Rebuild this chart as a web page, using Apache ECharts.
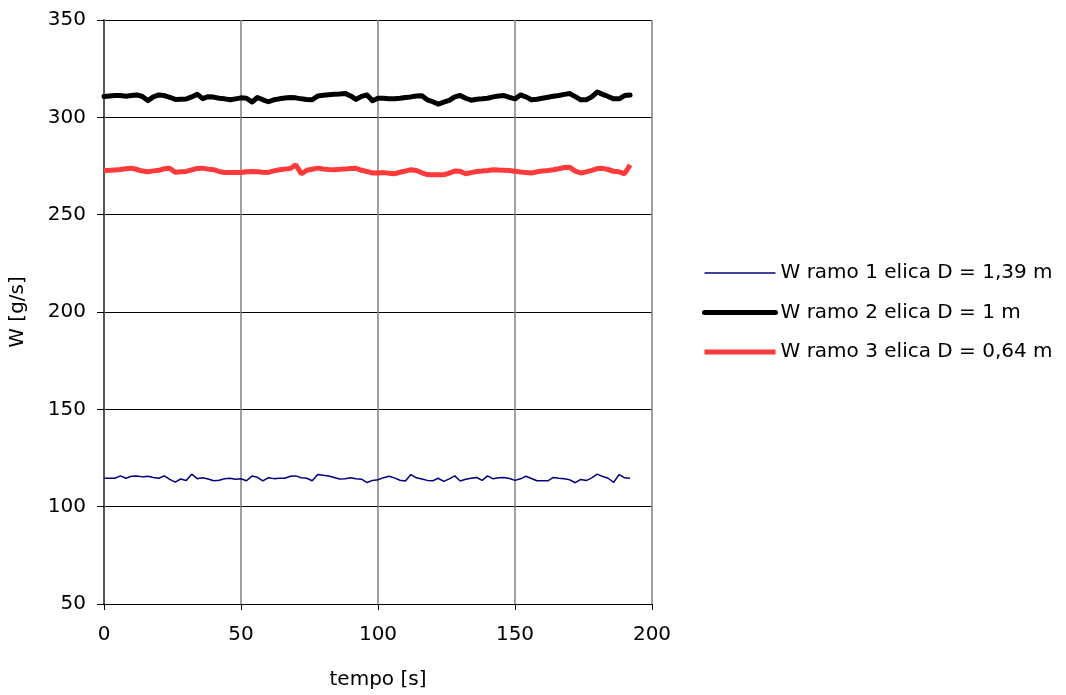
<!DOCTYPE html>
<html>
<head>
<meta charset="utf-8">
<script src="https://cdn.jsdelivr.net/npm/echarts@6/dist/echarts.min.js"></script>
<style>html,body{margin:0;padding:0;background:#fff}#c{width:1066px;height:695px}</style>
</head>
<body>
<div id="c"></div>
<script>
var times = [0,2,4,6,8,10,12,14,16,18,20,22,24,26,28,30,32,34,36,38,40,42,44,46,48,50,52,54,56,58,60,62,64,66,68,70,72,74,76,78,80,82,84,86,88,90,92,94,96,98,100,102,104,106,108,110,112,114,116,118,120,122,124,126,128,130,132,134,136,138,140,142,144,146,148,150,152,154,156,158,160,162,164,166,168,170,172,174,176,178,180,182,184,186,188,190,192];
var ramo1 = [114.6,114.6,114.6,115.8,114.6,115.6,115.8,115.3,115.6,115.0,114.6,115.8,114.0,112.6,114.2,113.4,116.7,114.4,114.8,114.2,113.3,113.6,114.3,114.6,114.1,114.3,113.3,115.7,115.1,113.2,114.9,114.4,114.6,114.6,115.6,115.8,114.9,114.6,113.3,116.5,116.1,115.8,115.0,114.2,114.4,114.8,114.4,114.1,112.4,113.5,113.8,114.9,115.6,114.8,113.6,113.2,116.5,114.8,114.2,113.5,113.3,114.6,113.0,114.3,115.8,113.2,114.1,114.6,115.0,113.5,115.8,114.3,114.8,115.0,114.5,113.5,114.3,115.6,114.5,113.3,113.3,113.3,115.0,114.6,114.3,113.8,112.3,114.0,113.4,114.8,116.7,115.5,114.6,112.5,116.5,114.8,114.6];
var ramo2 = [310.7,311.0,311.2,311.2,310.8,311.2,311.5,310.7,308.6,310.5,311.5,311.2,310.3,309.2,309.3,309.4,310.5,311.9,309.6,310.6,310.4,309.8,309.5,309.0,309.5,310.0,309.8,307.9,310.2,309.0,308.0,309.0,309.5,309.9,310.2,310.0,309.5,309.2,309.0,311.0,311.3,311.6,311.9,312.0,312.3,311.0,309.2,310.8,311.5,308.5,309.8,309.8,309.6,309.5,309.8,310.2,310.5,311.0,311.1,309.0,308.0,306.8,307.8,308.7,310.5,311.2,309.8,308.8,309.3,309.5,309.8,310.5,311.0,311.2,310.3,309.5,311.5,310.5,309.0,309.3,309.8,310.3,310.8,311.2,311.8,312.2,310.6,309.0,309.0,310.5,313.0,311.8,310.7,309.5,309.5,311.2,311.5];
var ramo3 = [272.7,272.8,273.0,273.2,273.6,273.9,273.2,272.4,272.0,272.5,272.8,273.6,273.9,271.8,272.0,272.2,273.0,273.7,273.9,273.4,273.1,272.2,271.7,271.7,271.7,271.7,272.0,272.2,272.0,271.8,271.7,272.5,273.1,273.4,273.7,275.6,271.0,272.8,273.3,273.9,273.5,273.2,273.1,273.3,273.4,273.7,273.8,272.8,272.2,271.4,271.4,271.6,271.3,271.0,271.8,272.4,273.1,272.7,271.5,270.6,270.5,270.5,270.5,271.3,272.4,272.3,271.0,271.6,272.2,272.4,272.7,273.1,272.9,272.8,272.7,272.3,271.9,271.6,271.4,272.0,272.4,272.7,273.1,273.6,274.2,274.3,272.4,271.4,272.0,272.8,273.7,273.8,273.2,272.3,272.0,271.0,275.6];
var seriesNames = ['W ramo 1 elica D = 1,39 m','W ramo 2 elica D = 1 m','W ramo 3 elica D = 0,64 m'];
var xName = 'tempo [s]';
var yName = 'W [g/s]';

function pairs(vals){ return vals.map(function(v,i){ return [times[i], v]; }); }

var font = 'DejaVu Sans, sans-serif';
var c1 = '#000080', c2 = '#000000', c3 = '#ff3a3a';
var chart = echarts.init(document.getElementById('c'), null, {renderer:'canvas'});
chart.setOption({
  animation:false,
  backgroundColor:'#ffffff',
  grid:{left:103, right:414, top:20, bottom:90, containLabel:false},
  legend:{
    orient:'vertical', left:702, top:263, padding:0, itemWidth:71, itemHeight:14, itemGap:19.5,
    textStyle:{fontFamily:font, fontSize:20, color:'#000'},
    itemStyle:{opacity:0},
    data:[
      {name:seriesNames[0], lineStyle:{color:c1, width:1.5}},
      {name:seriesNames[1], lineStyle:{color:c2, width:5}},
      {name:seriesNames[2], lineStyle:{color:c3, width:5}}
    ]
  },
  xAxis:{
    type:'value', min:0, max:200, interval:50,
    name:xName, nameLocation:'middle', nameGap:66,
    nameTextStyle:{fontFamily:font, fontSize:20, color:'#000'},
    axisLine:{show:true, onZero:false, lineStyle:{color:'#000', width:1}},
    axisTick:{show:true, inside:false, length:6, lineStyle:{color:'#000'}},
    axisLabel:{fontFamily:font, fontSize:20, color:'#000', margin:21},
    splitLine:{show:true, lineStyle:{color:'#808080', width:1.5}}
  },
  yAxis:{
    type:'value', min:50, max:350, interval:50,
    name:yName, nameLocation:'middle', nameGap:76,
    nameTextStyle:{fontFamily:font, fontSize:20, color:'#000'},
    axisLine:{show:true, onZero:false, lineStyle:{color:'#555', width:2}},
    axisTick:{show:true, inside:false, length:7, lineStyle:{color:'#000'}},
    axisLabel:{fontFamily:font, fontSize:20, color:'#000', margin:18},
    splitLine:{show:true, lineStyle:{color:'#000', width:1}}
  },
  series:[
    {name:seriesNames[0], type:'line', symbol:'none', data:pairs(ramo1),
     lineStyle:{color:c1, width:1.5}, itemStyle:{color:c1}},
    {name:seriesNames[1], type:'line', symbol:'none', data:pairs(ramo2),
     lineStyle:{color:c2, width:5, cap:'round', join:'round'}, itemStyle:{color:c2}},
    {name:seriesNames[2], type:'line', symbol:'none', data:pairs(ramo3),
     lineStyle:{color:c3, width:5}, itemStyle:{color:c3}}
  ]
});
</script>
</body>
</html>
